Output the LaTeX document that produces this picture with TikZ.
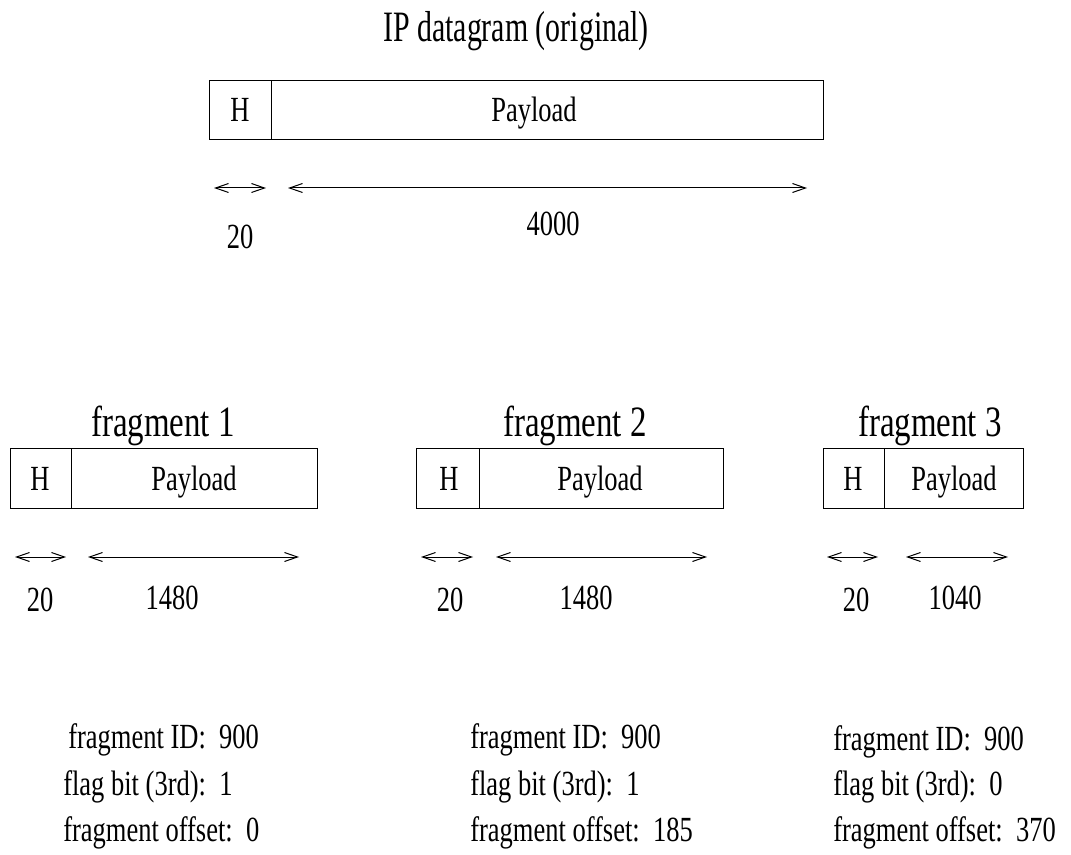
\documentclass[tikz,border=0pt]{standalone}
\usepackage{fontspec}
\setmainfont{Liberation Serif}
\newfontfamily\figfont[FakeStretch=0.75]{Liberation Serif}
\newfontfamily\ttlfont[FakeStretch=0.76]{Liberation Serif}
\newfontfamily\mainttlfont[FakeStretch=0.69]{Liberation Serif}
\usetikzlibrary{arrows.meta}
\begin{document}
\begin{tikzpicture}[x=0.75pt,y=-0.75pt,
  ttl/.style={font=\ttlfont\fontsize{32.5}{36}\selectfont, inner sep=0pt, anchor=base},
  mainttl/.style={font=\mainttlfont\fontsize{32.5}{36}\selectfont, inner sep=0pt, anchor=base},
  lab/.style={font=\figfont\fontsize{26.5}{30}\selectfont, inner sep=0pt, anchor=base},
  info/.style={lab, anchor=base west},
  cell/.style={draw=black, line width=0.75pt},
  barb/.tip={Straight Barb[length=9.75pt,width=6.75pt]},
  dim/.style={barb-barb, line width=0.75pt}]
\useasboundingbox (0,0) rectangle (1071,855);

% ---------- original datagram ----------
\node[mainttl] (t0) at (516,42) {IP datagram (original)};
\draw[cell] (209,81) rectangle (823,140);
\draw[cell] (271,81) -- (271,140);
\node[lab] (h0) at (240,122) {H};
\node[lab] (p0) at (534,122) {Payload};
\coordinate (a0s) at (214,188); \coordinate (a0e) at (266,188);
\coordinate (b0s) at (288,188); \coordinate (b0e) at (807,188);
\draw[dim] (a0s) -- (a0e);
\draw[dim] (b0s) -- (b0e);
\node[lab] (l0a) at (240,249) {20};
\node[lab] (l0b) at (553,236) {4000};

% ---------- fragment 1 ----------
\node[ttl] (t1) at (163,436) {fragment 1};
\draw[cell] (10,449) rectangle (317,508);
\draw[cell] (71,449) -- (71,508);
\node[lab] (h1) at (40,490) {H};
\node[lab] (p1) at (194,490) {Payload};
\coordinate (a1s) at (15,557); \coordinate (a1e) at (66,557);
\coordinate (b1s) at (88,557); \coordinate (b1e) at (299,557);
\draw[dim] (a1s) -- (a1e);
\draw[dim] (b1s) -- (b1e);
\node[lab] (l1a) at (40,611) {20};
\node[lab] (l1b) at (172,609) {1480};
\node[info] (i1a) at (68,748) {fragment ID:\ \ 900};
\node[info] (i1b) at (63,795) {flag bit (3rd):\ \ 1};
\node[info] (i1c) at (63,841) {fragment offset:\ \ 0};

% ---------- fragment 2 ----------
\node[ttl] (t2) at (575,436) {fragment 2};
\draw[cell] (416,449) rectangle (723,508);
\draw[cell] (479,449) -- (479,508);
\node[lab] (h2) at (449,490) {H};
\node[lab] (p2) at (600,490) {Payload};
\coordinate (a2s) at (421,557); \coordinate (a2e) at (473,557);
\coordinate (b2s) at (496,557); \coordinate (b2e) at (707,557);
\draw[dim] (a2s) -- (a2e);
\draw[dim] (b2s) -- (b2e);
\node[lab] (l2a) at (450,611) {20};
\node[lab] (l2b) at (586,609) {1480};
\node[info] (i2a) at (470,748) {fragment ID:\ \ 900};
\node[info] (i2b) at (470,795) {flag bit (3rd):\ \ 1};
\node[info] (i2c) at (470,841) {fragment offset:\ \ 185};

% ---------- fragment 3 ----------
\node[ttl] (t3) at (930,436) {fragment 3};
\draw[cell] (823,449) rectangle (1023,508);
\draw[cell] (884,449) -- (884,508);
\node[lab] (h3) at (853,490) {H};
\node[lab] (p3) at (954,490) {Payload};
\coordinate (a3s) at (827,557); \coordinate (a3e) at (878,557);
\coordinate (b3s) at (906,557); \coordinate (b3e) at (1008,557);
\draw[dim] (a3s) -- (a3e);
\draw[dim] (b3s) -- (b3e);
\node[lab] (l3a) at (856,611) {20};
\node[lab] (l3b) at (955,609) {1040};
\node[info] (i3a) at (833,750) {fragment ID:\ \ 900};
\node[info] (i3b) at (833,795) {flag bit (3rd):\ \ 0};
\node[info] (i3c) at (833,841) {fragment offset:\ \ 370};
\end{tikzpicture}
\end{document}
